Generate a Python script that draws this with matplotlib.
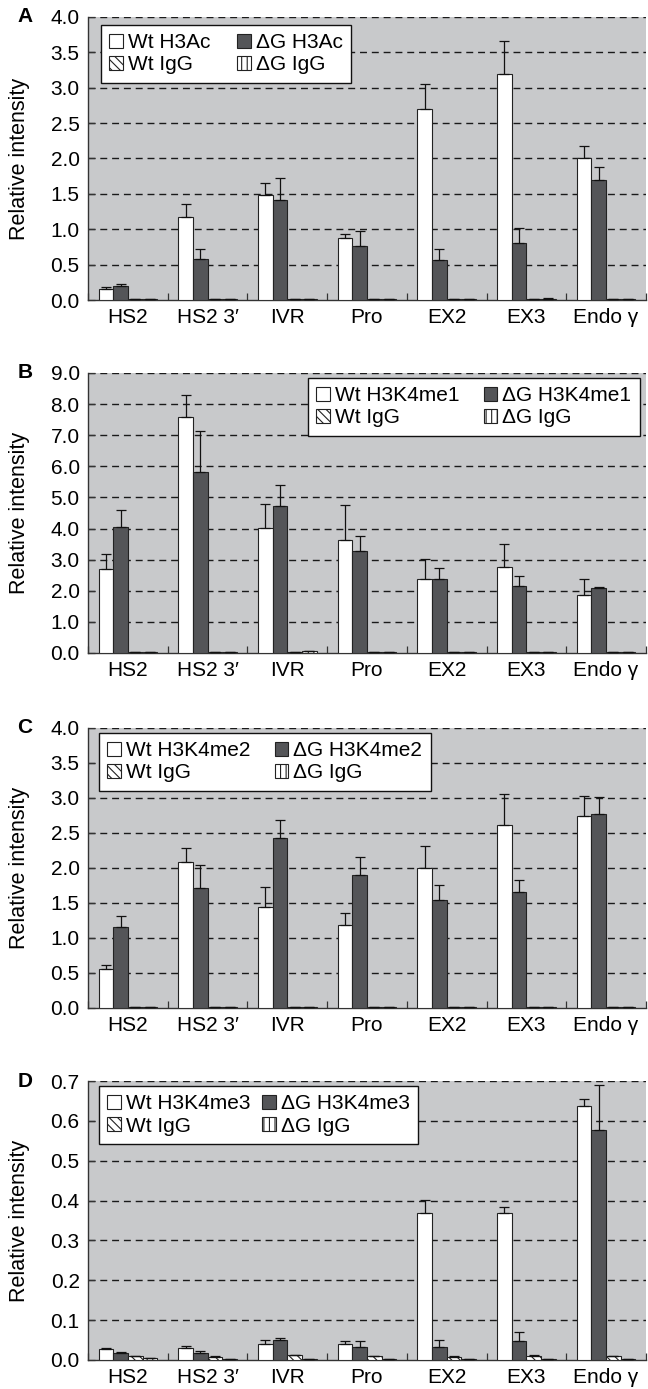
import matplotlib
matplotlib.use("Agg")
import matplotlib.pyplot as plt
import numpy as np

plt.rcParams['font.family'] = ['Liberation Sans', 'DejaVu Sans']
plt.rcParams['hatch.linewidth'] = 0.8

categories = ["HS2", "HS2 3\u2032", "IVR", "Pro", "EX2", "EX3", "Endo \u03b3"]

# Panel A: H3Ac
a_wt = [0.15, 1.17, 1.48, 0.87, 2.70, 3.19, 2.00]
a_wt_err = [0.04, 0.19, 0.18, 0.06, 0.35, 0.47, 0.17]
a_dg = [0.20, 0.58, 1.41, 0.77, 0.56, 0.80, 1.69]
a_dg_err = [0.03, 0.14, 0.32, 0.20, 0.16, 0.22, 0.19]
a_wtigg = [0.01, 0.01, 0.01, 0.01, 0.01, 0.01, 0.01]
a_wtigg_err = [0, 0, 0, 0, 0, 0, 0]
a_dgigg = [0.01, 0.01, 0.01, 0.01, 0.01, 0.02, 0.01]
a_dgigg_err = [0, 0, 0, 0, 0, 0.01, 0]

# Panel B: H3K4me1
b_wt = [2.70, 7.58, 4.01, 3.63, 2.39, 2.76, 1.85]
b_wt_err = [0.47, 0.70, 0.77, 1.13, 0.64, 0.74, 0.52]
b_dg = [4.04, 5.83, 4.73, 3.27, 2.39, 2.15, 2.09]
b_dg_err = [0.57, 1.32, 0.66, 0.50, 0.33, 0.31, 0.03]
b_wtigg = [0.02, 0.02, 0.02, 0.02, 0.02, 0.02, 0.02]
b_wtigg_err = [0, 0, 0, 0, 0, 0, 0]
b_dgigg = [0.02, 0.02, 0.05, 0.02, 0.02, 0.02, 0.02]
b_dgigg_err = [0, 0, 0, 0, 0, 0, 0]

# Panel C: H3K4me2
c_wt = [0.55, 2.08, 1.44, 1.19, 2.00, 2.62, 2.74]
c_wt_err = [0.07, 0.20, 0.29, 0.16, 0.32, 0.44, 0.29]
c_dg = [1.15, 1.71, 2.43, 1.90, 1.54, 1.65, 2.77]
c_dg_err = [0.17, 0.33, 0.25, 0.25, 0.21, 0.18, 0.24]
c_wtigg = [0.015, 0.01, 0.015, 0.01, 0.01, 0.01, 0.01]
c_wtigg_err = [0, 0, 0, 0, 0, 0, 0]
c_dgigg = [0.01, 0.01, 0.01, 0.01, 0.01, 0.01, 0.01]
c_dgigg_err = [0, 0, 0, 0, 0, 0, 0]

# Panel D: H3K4me3
d_wt = [0.028, 0.030, 0.040, 0.040, 0.369, 0.368, 0.637]
d_wt_err = [0.002, 0.005, 0.011, 0.008, 0.032, 0.015, 0.018]
d_dg = [0.017, 0.017, 0.051, 0.033, 0.032, 0.048, 0.576]
d_dg_err = [0.004, 0.006, 0.005, 0.015, 0.017, 0.023, 0.115]
d_wtigg = [0.009, 0.008, 0.012, 0.010, 0.008, 0.011, 0.010]
d_wtigg_err = [0.001, 0.002, 0.001, 0.001, 0.001, 0.001, 0.001]
d_dgigg = [0.006, 0.003, 0.003, 0.003, 0.003, 0.003, 0.003]
d_dgigg_err = [0, 0, 0, 0, 0, 0, 0]

panels = [
    dict(letter="A", mark="H3Ac", ymax=4.0, step=0.5, fmt="{:.1f}",
         series=[(a_wt, a_wt_err), (a_dg, a_dg_err), (a_wtigg, a_wtigg_err), (a_dgigg, a_dgigg_err)],
         pos=(0.1358, 0.7840, 0.861, 0.2038), leg_loc="upper left", leg_anchor=(0.023, 0.972), colsp=1.3),
    dict(letter="B", mark="H3K4me1", ymax=9.0, step=1.0, fmt="{:.1f}",
         series=[(b_wt, b_wt_err), (b_dg, b_dg_err), (b_wtigg, b_wtigg_err), (b_dgigg, b_dgigg_err)],
         pos=(0.1358, 0.5299, 0.861, 0.2016), leg_loc="upper right", leg_anchor=(0.989, 0.982), colsp=1.15),
    dict(letter="C", mark="H3K4me2", ymax=4.0, step=0.5, fmt="{:.1f}",
         series=[(c_wt, c_wt_err), (c_dg, c_dg_err), (c_wtigg, c_wtigg_err), (c_dgigg, c_dgigg_err)],
         pos=(0.1358, 0.2743, 0.861, 0.2016), leg_loc="upper left", leg_anchor=(0.02, 0.982), colsp=1.15),
    dict(letter="D", mark="H3K4me3", ymax=0.7, step=0.1, fmt="{:.1f}",
         series=[(d_wt, d_wt_err), (d_dg, d_dg_err), (d_wtigg, d_wtigg_err), (d_dgigg, d_dgigg_err)],
         pos=(0.1358, 0.0209, 0.861, 0.2008), leg_loc="upper left", leg_anchor=(0.02, 0.982), colsp=0.55),
]

bg = "#c8c9cb"
dark = "#545558"
edge = "#222222"
fs = 15

fig = plt.figure(figsize=(6.48, 13.89), dpi=100)

bw = 0.184
offsets = [-1.5 * bw, -0.5 * bw, 0.5 * bw, 1.5 * bw]
styles = [
    dict(color="white", hatch=None),
    dict(color=dark, hatch=None),
    dict(color="white", hatch="\\\\\\\\"),
    dict(color="white", hatch="|||"),
]

for p in panels:
    ax = fig.add_axes(p["pos"])
    ax.set_facecolor(bg)
    x = np.arange(len(categories))
    names = ["Wt " + p["mark"], "\u0394G " + p["mark"], "Wt IgG", "\u0394G IgG"]
    handles = []
    for (vals, errs), off, st, nm in zip(p["series"], offsets, styles, names):
        vals = np.array(vals, dtype=float)
        errs = np.array(errs, dtype=float)
        b = ax.bar(x + off, vals, width=bw, color=st["color"], edgecolor=edge,
                   linewidth=0.8, hatch=st["hatch"], label=nm, zorder=3)
        ax.errorbar(x + off, vals, yerr=[np.zeros_like(errs), errs], fmt="none",
                    ecolor="#111111", elinewidth=0.9, capsize=3.5, capthick=0.9, zorder=4)
        handles.append(b)
    ax.set_xlim(-0.5, len(categories) - 0.5)
    ax.set_ylim(0, p["ymax"])
    yt = np.arange(0, p["ymax"] + 1e-9, p["step"])
    ax.set_yticks(yt)
    ax.set_yticklabels([p["fmt"].format(v) for v in yt], fontsize=fs)
    for v in yt[1:]:
        ax.axhline(v, color="#1a1a1a", linestyle=(0, (5, 3.5)), linewidth=1.0, zorder=1)
    ax.set_xticks(x)
    ax.set_xticklabels(categories, fontsize=fs)
    ax.tick_params(axis="x", which="major", length=0, pad=6)
    ax.set_xticks(np.arange(-0.5, len(categories) + 0.5, 1.0), minor=True)
    ax.tick_params(axis="x", which="minor", length=5, direction="in", width=0.9, color="#333333")
    ax.tick_params(axis="y", length=5, direction="in", width=0.9, color="#333333", pad=6)
    for s in ["top", "right"]:
        ax.spines[s].set_visible(False)
    for s in ["left", "bottom"]:
        ax.spines[s].set_color("#333333")
        ax.spines[s].set_linewidth(1.0)
    ax.set_ylabel("Relative intensity", fontsize=15.5)
    ax.yaxis.set_label_coords(-0.104, 0.5)
    order = [handles[0], handles[2], handles[1], handles[3]]
    leg = ax.legend(handles=order, ncol=2, loc=p["leg_loc"], bbox_to_anchor=p["leg_anchor"],
                    fontsize=15, frameon=True, fancybox=False, borderaxespad=0,
                    handlelength=0.65, handleheight=0.65, handletextpad=0.25,
                    columnspacing=p["colsp"], labelspacing=0.15, borderpad=0.4)
    leg.get_frame().set_edgecolor("#111111")
    leg.get_frame().set_linewidth(1.0)
    leg.get_frame().set_facecolor("white")
    leg.get_frame().set_alpha(1)
    leg.set_zorder(10)
    ax.text(-0.113, 1.0, p["letter"], transform=ax.transAxes, fontsize=15, fontweight="bold",
            ha="center", va="center")

fig.savefig("out.png", dpi=100)
